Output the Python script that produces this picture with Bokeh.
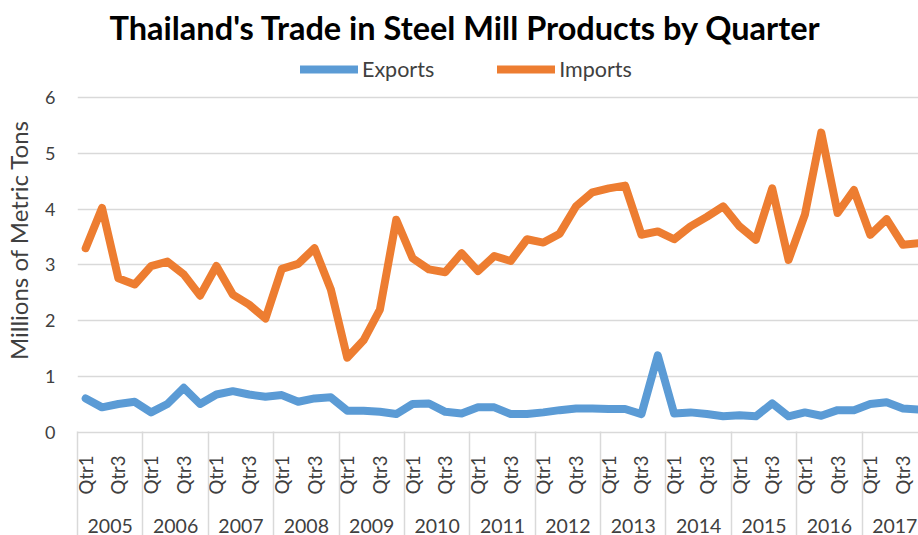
from math import pi
from bokeh.plotting import figure
from bokeh.models import Range1d, LinearAxis, FixedTicker, Legend, LegendItem
from bokeh.embed import file_html
from bokeh.resources import INLINE

years = [str(y) for y in range(2005, 2018)]
quarter_labels = ["Qtr1", "Qtr2", "Qtr3", "Qtr4"]
shown_quarters = ["Qtr1", "Qtr3"]

exports = [0.61, 0.45, 0.51, 0.55, 0.36, 0.51, 0.80, 0.51, 0.68, 0.74, 0.68, 0.64,
           0.67, 0.55, 0.61, 0.63, 0.39, 0.39, 0.37, 0.33, 0.51, 0.52, 0.37, 0.34,
           0.45, 0.45, 0.33, 0.33, 0.36, 0.40, 0.43, 0.43, 0.42, 0.42, 0.33, 1.38,
           0.34, 0.36, 0.33, 0.29, 0.31, 0.29, 0.52, 0.29, 0.36, 0.30, 0.40, 0.40,
           0.51, 0.54, 0.43, 0.41]
imports = [3.30, 4.02, 2.76, 2.65, 2.98, 3.06, 2.83, 2.45, 2.98, 2.47, 2.29, 2.04,
           2.93, 3.02, 3.30, 2.56, 1.34, 1.65, 2.20, 3.81, 3.12, 2.92, 2.87, 3.21,
           2.89, 3.16, 3.07, 3.46, 3.40, 3.56, 4.05, 4.30, 4.37, 4.42, 3.54, 3.60,
           3.46, 3.69, 3.86, 4.05, 3.69, 3.45, 4.37, 3.09, 3.90, 5.37, 3.93, 4.34,
           3.54, 3.82, 3.36, 3.39]
y_ticks = [0, 1, 2, 3, 4, 5, 6]

FONT = "Lato"
TXT = "#404040"
GRID = "#D9D9D9"

nq = len(quarter_labels)
x = [i + 0.5 for i in range(len(imports))]

p = figure(width=918, height=535, output_backend="svg", toolbar_location=None,
           x_range=Range1d(0, 51.45), y_range=Range1d(0, 6.893),
           x_axis_location=None, min_border_left=77, min_border_right=0,
           min_border_bottom=102, min_border_top=47)
p.outline_line_color = None
p.xgrid.visible = False
p.ygrid.grid_line_color = GRID
p.ygrid.grid_line_width = 1.5
p.ygrid.ticker = FixedTicker(ticks=y_ticks)

p.title.text = "Thailand's Trade in Steel Mill Products by Quarter"
p.title.text_font = FONT
p.title.text_font_size = "32.5px"
p.title.text_font_style = "bold"
p.title.text_color = "black"
p.title.align = "left"
p.title.offset = 32
p.title.standoff = 1

ya = p.yaxis[0]
ya.ticker = FixedTicker(ticks=y_ticks)
ya.axis_line_color = None
ya.major_tick_line_color = None
ya.minor_tick_line_color = None
ya.major_label_standoff = 16
ya.major_label_text_font = FONT
ya.major_label_text_font_size = "18px"
ya.major_label_text_color = TXT
ya.axis_label = "Millions of Metric Tons"
ya.axis_label_text_font = FONT
ya.axis_label_text_font_size = "24px"
ya.axis_label_text_font_style = "normal"
ya.axis_label_text_color = TXT
ya.axis_label_standoff = 9

# quarter labels axis
q_ticks = []
q_over = {}
for yi in range(len(years)):
    for qi, q in enumerate(quarter_labels):
        if q in shown_quarters:
            t = yi * nq + qi + 0.5
            q_ticks.append(t)
            q_over[t] = q
qa = LinearAxis(ticker=FixedTicker(ticks=q_ticks, minor_ticks=[]),
                major_label_overrides=q_over)
qa.axis_line_color = GRID
qa.axis_line_width = 1.5
qa.major_tick_line_color = None
qa.minor_tick_line_color = None
qa.major_label_orientation = pi / 2
qa.major_label_standoff = 17
qa.major_label_text_font = FONT
qa.major_label_text_font_size = "18.5px"
qa.major_label_text_color = TXT
p.add_layout(qa, "below")

y_centers = [yi * nq + nq / 2 for yi in range(len(years))]
ya2 = LinearAxis(ticker=FixedTicker(ticks=y_centers, minor_ticks=[]),
                 major_label_overrides={t: s for t, s in zip(y_centers, years)})
ya2.axis_line_color = None
ya2.major_tick_line_color = None
ya2.minor_tick_line_color = None
ya2.major_label_standoff = 15
ya2.major_label_text_font = FONT
ya2.major_label_text_font_size = "19.5px"
ya2.major_label_text_color = TXT
p.add_layout(ya2, "below")

# year separators: long inward minor ticks of a label-less outermost axis
bounds = [yi * nq for yi in range(len(years) + 1)]
sep = LinearAxis(ticker=FixedTicker(ticks=[], minor_ticks=bounds))
sep.axis_line_color = None
sep.major_tick_line_color = None
sep.major_label_text_font_size = "0px"
sep.major_label_standoff = 0
sep.minor_tick_line_color = GRID
sep.minor_tick_line_width = 1.5
sep.minor_tick_in = 104
sep.minor_tick_out = 0
p.add_layout(sep, "below")

r_exp = p.line(x, exports, line_width=8, color="#5B9BD5", line_join="round", line_cap="round")
r_imp = p.line(x, imports, line_width=8, color="#ED7D31", line_join="round", line_cap="round")

legend = Legend(items=[LegendItem(label="Exports", renderers=[r_exp]),
                       LegendItem(label="Imports", renderers=[r_imp])],
                orientation="horizontal", location=(223, 350))
legend.border_line_color = None
legend.background_fill_alpha = 0
legend.padding = 0
legend.margin = 0
legend.spacing = 63
legend.glyph_width = 58
legend.glyph_height = 20
legend.label_standoff = 4
legend.label_text_font = FONT
legend.label_text_font_size = "21.5px"
legend.label_text_color = TXT
p.add_layout(legend, "center")

open("out.html", "w").write(file_html(p, INLINE))
